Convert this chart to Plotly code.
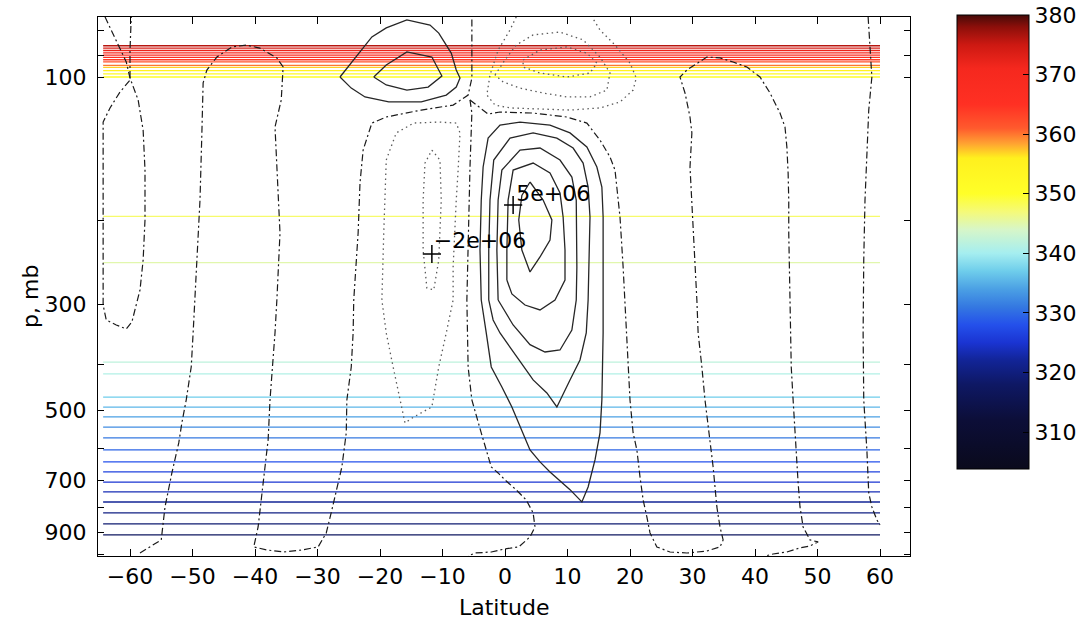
import plotly.graph_objects as go
from plotly.colors import sample_colorscale

# ---------------- data ----------------
X_TICKS = [-60, -50, -40, -30, -20, -10, 0, 10, 20, 30, 40, 50, 60]
X_TICK_TEXT = ["−60", "−50", "−40", "−30", "−20", "−10", "0", "10", "20", "30", "40", "50", "60"]
P_TICKS = [80, 90, 100, 200, 300, 400, 500, 600, 700, 800, 900, 1000]
P_TICK_TEXT = ["", "", "100", "", "300", "", "500", "", "700", "", "900", ""]
CBAR_TICKS = [310, 320, 330, 340, 350, 360, 370, 380]
CBAR_MIN = 303.8
CBAR_MAX = 380.0

# isentropes (theta, K) as horizontal lines
THETA_LAT = [-64.3, 60.0]
THETA_UPPER_P = [86, 87, 88, 89, 90, 91, 92, 93, 94.5, 95.5, 97, 98.5, 100]
THETA_UPPER_VAL = [376, 374, 372, 370, 368, 366, 364, 362, 360, 357, 355, 353, 351]
THETA_MID_P = [196, 245, 396, 419]
THETA_MID_VAL = [347.5, 345, 342, 341]
THETA_LOWER_P = [469, 492, 516, 542, 571, 605, 641, 673, 707, 741, 778, 820, 865, 912]
THETA_LOWER_VAL = [337, 335.5, 334, 332.5, 331, 329.5, 328, 326.5, 325, 323.5, 322, 320.5, 319, 317.5]

# zero streamfunction contours (dash-dot)
Z1A_LAT = [-64.0, -61.9, -60.6, -60.0, -58.7, -57.9, -57.6, -57.6, -57.9, -58.4, -59.0, -59.7, -60.6,
           -62.2, -63.8, -64.3, -64.3, -64.3, -63.2, -61.6, -60.0]
Z1A_P = [74.8, 85.7, 93.0, 100.5, 111.7, 129.2, 156.7, 199.4, 241.9, 279.5, 300.6, 326.3, 337.5,
         331.0, 323.1, 300.6, 181.1, 124.3, 116.1, 107.5, 101.5]
Z1B_LAT = [-60.0, -60.0, -59.8]
Z1B_P = [100.5, 87.8, 74.8]

Z2_LAT = [-58.4, -55.0, -54.4, -53.3, -52.2, -51.7, -51.0, -50.2, -49.9, -49.6, -48.8, -48.5, -48.3,
          -47.7, -46.1, -43.7, -41.4, -39.2, -36.5, -35.5, -35.8, -36.8, -36.5, -36.0, -36.5, -36.8,
          -37.6, -37.9, -38.4, -39.0, -39.5, -40.2, -38.1, -35.4, -32.5, -29.9, -28.6, -27.7, -26.9,
          -26.1, -25.4, -25.3, -24.6, -24.3, -24.2, -23.5, -23.2, -22.7, -21.3, -19.0, -13.4, -8.3,
          -5.9, -5.3, -5.3]
Z2_P = [995, 934, 797, 676, 585, 531, 475, 405, 344, 293, 181, 131, 102.9,
        96.7, 90.8, 86.5, 85.7, 87.0, 91.2, 95.3, 111.7, 127.3, 154.4, 212.3, 293.4, 344,
        475.4, 576.6, 656.9, 770.3, 877.6, 966.5, 980.6, 990.4, 980.6, 966.5, 903.3, 808.4, 734.0,
        656.9, 557.5, 475.4, 405.4, 344, 293.4, 212.3, 166.8, 142.3, 124.9, 121.3, 117.3, 114.5,
        109.1, 100.5, 74.8]

Z3A_LAT = [-5.6, -2.7, -0.8, 4.5, 9.9, 13.1, 15.2, 16.8, 17.6, 17.9, 18.4, 18.9, 19.2, 19.5, 20.0,
           20.5, 21.1, 21.6, 22.1, 22.7, 23.2, 24.3, 26.4, 29.1, 32.3, 34.4, 34.9, 34.4, 33.9, 33.3,
           32.5, 32.0, 31.5, 30.9, 30.7, 30.4, 30.1, 29.9, 29.6, 29.9, 29.6, 28.8, 28.0, 29.1, 30.4,
           32.3, 34.4, 36.5, 38.7, 40.8, 42.4, 44.0, 44.8, 45.1, 45.3, 45.4, 45.4, 45.6, 45.8, 46.1,
           46.4, 46.7, 46.9, 47.2, 47.7, 48.8, 50.1, 48.8, 47.2, 45.1, 42.9, 41.6]
Z3A_P = [111.7, 119.6, 118.4, 119.0, 121.3, 124.9, 135.6, 147.1, 156.7, 170.1, 196.6, 250.2, 293.4,
         344.0, 475.4, 557.5, 605.1, 689.3, 770.3, 836.2, 903.3, 966.5, 990.4, 995.2, 985.6, 966.5,
         934.4, 877.6, 796.8, 656.9, 541.6, 475.4, 405.4, 344.0, 293.4, 250.2, 212.3, 181.1, 154.4,
         131.0, 121.3, 108.0, 100.0, 96.7, 94.4, 90.8, 91.2, 93.0, 95.3, 100.0, 108.0, 119.0, 127.3,
         140.2, 159.0, 181.1, 212.3, 293.4, 405.4, 475.4, 557.5, 635.1, 709.6, 796.8, 877.6, 934.4,
         943.4, 961.8, 971.1, 990.4, 1000, 1009.7]
Z3B_LAT = [-5.6, -5.3, -5.6, -5.9, -6.1, -5.9, -5.3, -3.8, -2.2, -1.1, 0.0, 1.8, 3.4, 4.5, 4.8,
           4.0, 2.2, 0.0, -2.2, -4.8, -5.9]
Z3B_P = [111.7, 119.0, 154.4, 212.3, 293.4, 405.4, 475.4, 557.5, 656.9, 676.2, 699.4, 734.0, 770.3,
         820.2, 877.6, 920.9, 966.5, 975.8, 990.4, 995.2, 1009.7]
Z4_LAT = [58.1, 58.4, 58.7, 58.2, 57.9, 57.6, 57.4, 57.3, 57.4, 57.9, 58.2, 58.7, 59.5, 60.0]
Z4_P = [74.8, 87.8, 100.0, 117.3, 142.3, 181.1, 241.9, 344.0, 475.4, 605.1, 744.7, 796.8, 848.4, 869.1]

# positive contours (solid)
P1_OUT_LAT = [-26.4, -24.2, -21.3, -19.0, -15.7, -12.0, -10.6, -8.6, -7.8, -7.2, -7.8, -9.4, -13.4,
              -18.6, -22.4, -24.6, -26.4]
P1_OUT_P = [100, 92.1, 82.4, 78.9, 75.9, 77.8, 80.9, 89.1, 96.7, 100.5, 105.0, 109.1, 112.8,
            112.8, 110.1, 105.5, 100]
P1_IN_LAT = [-21.0, -19.0, -15.7, -11.7, -10.1, -12.3, -15.7, -19.0, -21.0]
P1_IN_P = [100, 94.4, 88.6, 90.8, 99.5, 105.0, 106.5, 103.9, 100]

C1_LAT = [-3.8, -4.0, -3.8, -3.5, -2.7, -0.8, 2.4, 7.2, 10.4, 13.1, 14.7, 15.5, 15.7, 15.7, 15.7,
          15.5, 15.2, 14.4, 13.3, 12.3, 10.4, 7.2, 5.6, 4.0, 2.9, 1.1, -0.5, -2.2, -3.0, -3.8]
C1_P = [293.4, 230.5, 181.1, 154.4, 134.3, 126.1, 124.3, 126.1, 131.0, 140.2, 154.4, 170.1, 196.6,
        250.2, 344.0, 475.4, 557.5, 635.1, 723.4, 777.8, 733.0, 672.9, 641.2, 605.1, 557.5, 491.7,
        446.5, 405.4, 344.0, 293.4]
C2_LAT = [-2.6, -2.6, -2.4, -1.8, 0.8, 4.5, 8.3, 10.9, 12.5, 13.3, 13.6, 13.4, 13.3, 13.0, 12.0,
          10.4, 8.3, 6.7, 4.5, 1.9, -0.8, -1.9, -2.6]
C2_P = [293.4, 230.5, 181.1, 149.3, 134.3, 131.0, 134.3, 140.9, 151.5, 170.1, 196.6, 250.2, 293.4,
        344.0, 391.9, 431.6, 491.7, 459.6, 431.6, 386.3, 344.0, 323.1, 293.4]
C3_LAT = [-1.1, -1.3, -1.1, -0.5, 2.4, 5.6, 8.8, 10.7, 11.4, 11.5, 11.5, 11.4, 10.7, 8.8, 6.4,
          4.0, 1.3, -1.1]
C3_P = [293.4, 230.5, 181.1, 156.7, 142.3, 140.9, 149.3, 162.1, 181.1, 212.3, 250.2, 293.4, 339.1,
        373.5, 377.1, 364.0, 331.0, 293.4]
C4_LAT = [0.3, 0.3, 0.5, 1.3, 4.5, 7.2, 8.8, 9.3, 9.6, 9.6, 8.0, 5.6, 3.2, 1.1, 0.3]
C4_P = [266.4, 230.5, 181.1, 156.7, 151.5, 158.9, 175.1, 196.6, 230.5, 266.4, 293.4, 307.9, 300.6,
        285.0, 266.4]
C5_LAT = [4.0, 6.1, 7.5, 7.2, 5.6, 4.0, 2.7, 2.2, 2.7, 4.0]
C5_P = [166.0, 181.1, 199.4, 219.6, 238.4, 256.3, 230.5, 199.4, 177.1, 166.0]

# negative contours (dotted)
N1_OUT_LAT = [-19.0, -17.4, -14.6, -10.6, -7.8, -7.2, -7.5, -7.8, -8.3, -8.3, -9.4, -10.6, -11.7,
              -14.6, -16.0, -16.8, -17.9, -19.0, -19.7, -19.4, -19.0]
N1_OUT_P = [149.3, 131.0, 124.9, 124.3, 124.9, 131.0, 156.7, 181.1, 250.2, 293.4, 344.0, 405.4,
            491.7, 516.1, 531.2, 475.4, 405.4, 344.0, 293.4, 212.3, 149.3]
N1_IN_LAT = [-11.7, -10.4, -10.2, -10.6, -11.4, -12.5, -13.1, -13.1, -12.8, -11.7]
N1_IN_P = [142.3, 149.3, 181.1, 241.9, 279.5, 276.8, 230.5, 181.1, 151.5, 142.3]
N2_OUT_LAT = [1.8, 0.8, -1.1, -2.4, -2.9, -1.6, 0.8, 5.6, 10.4, 15.2, 18.4, 20.5, 21.0, 20.0, 17.6,
              15.2, 13.9]
N2_OUT_P = [74.8, 79.7, 87.8, 99.0, 109.1, 114.5, 116.1, 116.7, 117.3, 116.1, 112.8, 106.5, 100.5,
            93.5, 85.7, 79.7, 74.8]
N2_MID_LAT = [-1.6, 0.0, 1.8, 4.5, 8.8, 12.5, 15.2, 16.8, 16.3, 13.6, 9.9, 6.1, 2.4, -0.3, -1.6]
N2_MID_P = [99.0, 92.1, 85.7, 81.6, 80.5, 83.6, 90.8, 98.1, 106.5, 110.1, 110.1, 108.0, 105.5,
            102.4, 99.0]
N2_IN_LAT = [2.9, 5.6, 9.9, 13.1, 14.7, 13.6, 9.9, 5.6, 2.9, 2.9]
N2_IN_P = [92.1, 87.8, 86.5, 89.1, 93.5, 98.1, 100.0, 98.1, 95.3, 92.1]

# extrema markers
EXT_LAT = [1.3, -11.7]
EXT_P = [185.5, 235.0]
EXT_LABEL_LAT = [1.8, -11.4]
EXT_LABEL_P = [176.8, 221.8]
EXT_LABELS = ["5e+06", "−2e+06"]

# ---------------- styling ----------------
FONT = "DejaVu Sans, Liberation Sans, Arial, sans-serif"
CSTOPS = [
    (303.8, "rgb(10,10,28)"), (312, "rgb(12,14,56)"), (318, "rgb(14,24,100)"),
    (322, "rgb(18,36,150)"), (325, "rgb(26,52,210)"), (328, "rgb(36,80,235)"),
    (331, "rgb(52,120,225)"), (334, "rgb(75,160,228)"), (337, "rgb(110,205,235)"),
    (340, "rgb(165,238,240)"), (344, "rgb(215,246,200)"), (347, "rgb(245,250,120)"),
    (350, "rgb(255,255,40)"), (356, "rgb(255,240,30)"), (358.5, "rgb(255,160,50)"),
    (361, "rgb(255,90,45)"), (365, "rgb(255,48,35)"), (371, "rgb(245,40,30)"),
    (375, "rgb(205,25,18)"), (378, "rgb(140,15,10)"), (380, "rgb(70,10,8)"),
]
COLORSCALE = [[(v - CBAR_MIN) / (CBAR_MAX - CBAR_MIN), c] for v, c in CSTOPS]


def theta_color(v):
    return sample_colorscale(COLORSCALE, [(v - CBAR_MIN) / (CBAR_MAX - CBAR_MIN)])[0]


fig = go.Figure()

for plist, vlist in [(THETA_UPPER_P, THETA_UPPER_VAL), (THETA_MID_P, THETA_MID_VAL),
                     (THETA_LOWER_P, THETA_LOWER_VAL)]:
    for p, v in zip(plist, vlist):
        fig.add_trace(go.Scatter(x=THETA_LAT, y=[p, p], mode="lines",
                                 line=dict(color=theta_color(v), width=1.3),
                                 showlegend=False, hoverinfo="skip"))

ZERO_STYLE = dict(color="#1a1a1a", width=1.2, dash="7px,3px,2px,3px")
POS_STYLE = dict(color="#262626", width=1.3)
NEG_STYLE = dict(color="#5a5a5a", width=1.3, dash="1.5px,3.5px")

for lat, p, style in [
    (Z1A_LAT, Z1A_P, ZERO_STYLE), (Z1B_LAT, Z1B_P, ZERO_STYLE), (Z2_LAT, Z2_P, ZERO_STYLE),
    (Z3A_LAT, Z3A_P, ZERO_STYLE), (Z3B_LAT, Z3B_P, ZERO_STYLE), (Z4_LAT, Z4_P, ZERO_STYLE),
    (P1_OUT_LAT, P1_OUT_P, POS_STYLE), (P1_IN_LAT, P1_IN_P, POS_STYLE),
    (C1_LAT, C1_P, POS_STYLE), (C2_LAT, C2_P, POS_STYLE), (C3_LAT, C3_P, POS_STYLE),
    (C4_LAT, C4_P, POS_STYLE), (C5_LAT, C5_P, POS_STYLE),
    (N1_OUT_LAT, N1_OUT_P, NEG_STYLE), (N1_IN_LAT, N1_IN_P, NEG_STYLE),
    (N2_OUT_LAT, N2_OUT_P, NEG_STYLE), (N2_MID_LAT, N2_MID_P, NEG_STYLE),
    (N2_IN_LAT, N2_IN_P, NEG_STYLE),
]:
    fig.add_trace(go.Scatter(x=lat, y=p, mode="lines", line=style,
                             showlegend=False, hoverinfo="skip"))

fig.add_trace(go.Scatter(x=EXT_LAT, y=EXT_P, mode="markers",
                         marker=dict(symbol="cross-thin", size=13,
                                     line=dict(color="black", width=1.5)),
                         showlegend=False, hoverinfo="skip"))
fig.add_trace(go.Scatter(x=EXT_LABEL_LAT, y=EXT_LABEL_P, mode="text", text=EXT_LABELS,
                         textposition="middle right",
                         textfont=dict(family=FONT, size=22, color="black"),
                         showlegend=False, hoverinfo="skip"))

# colorbar carrier
fig.add_trace(go.Scatter(
    x=[0], y=[500], mode="markers",
    marker=dict(size=0.1, opacity=0, color=[CBAR_MIN], colorscale=COLORSCALE,
                cmin=CBAR_MIN, cmax=CBAR_MAX, showscale=True,
                colorbar=dict(thickness=72, thicknessmode="pixels", len=454, lenmode="pixels",
                              x=(957 - 98) / 812, xanchor="left", y=(556 - 15) / 539,
                              yanchor="top", xpad=0, ypad=0, outlinewidth=1,
                              outlinecolor="black", tickvals=CBAR_TICKS, ticks="inside",
                              ticklen=6, tickcolor="black",
                              tickfont=dict(family=FONT, size=22, color="black"))),
    showlegend=False, hoverinfo="skip"))

fig.update_layout(
    width=1086, height=621,
    margin=dict(l=98, r=176, t=17, b=65, autoexpand=False),
    paper_bgcolor="white", plot_bgcolor="white",
    font=dict(family=FONT, size=22, color="black"),
    xaxis=dict(range=[-65.12, 64.8], tickvals=X_TICKS, ticktext=X_TICK_TEXT,
               ticks="inside", ticklen=7, tickcolor="black", showgrid=False, zeroline=False,
               showline=True, linecolor="black", linewidth=1.2, mirror="allticks",
               tickfont=dict(family=FONT, size=22, color="black"), automargin=False),
    yaxis=dict(type="log", range=[3.0042, 1.8742], tickvals=P_TICKS, ticktext=P_TICK_TEXT,
               ticks="inside", ticklen=6, tickcolor="black", showgrid=False, zeroline=False,
               showline=True, linecolor="black", linewidth=1.2, mirror="allticks",
               tickfont=dict(family=FONT, size=22, color="black"), ticklabelstandoff=6,
               automargin=False),
    annotations=[
        dict(text="Latitude", x=0.5, y=(556 - 607) / 539, xref="paper", yref="paper",
             xanchor="center", yanchor="middle", showarrow=False,
             font=dict(family=FONT, size=22, color="black")),
        dict(text="p, mb", x=(30 - 98) / 812, y=(556 - 297) / 539, xref="paper", yref="paper",
             xanchor="center", yanchor="middle", showarrow=False, textangle=-90,
             font=dict(family=FONT, size=22, color="black")),
    ],
)

fig.write_html("out.html")
